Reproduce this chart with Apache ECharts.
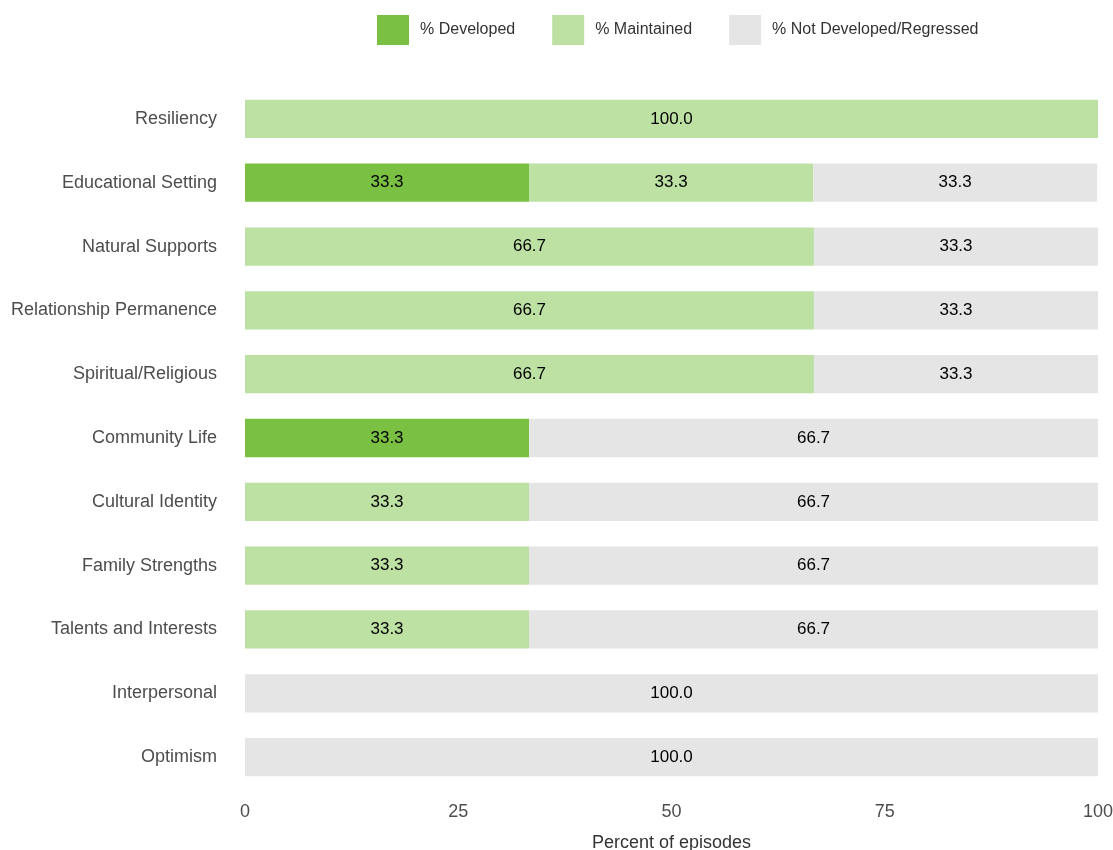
<!DOCTYPE html>
<html><head><meta charset="utf-8">
<script src="https://cdn.jsdelivr.net/npm/echarts@6/dist/echarts.min.js"></script>
<style>html,body{margin:0;padding:0;background:#fff}#c{width:1113px;height:850px}</style>
</head><body><div id="c"></div>
<script>
const categories = ["Resiliency","Educational Setting","Natural Supports","Relationship Permanence","Spiritual/Religious","Community Life","Cultural Identity","Family Strengths","Talents and Interests","Interpersonal","Optimism"];
const developed = [0,33.3,0,0,0,33.3,0,0,0,0,0];
const maintained = [100,33.3,66.7,66.7,66.7,0,33.3,33.3,33.3,0,0];
const notDeveloped = [0,33.3,33.3,33.3,33.3,66.7,66.7,66.7,66.7,100,100];
const xTicks = [0,25,50,75,100];
const seriesNames = ["% Developed","% Maintained","% Not Developed/Regressed"];
const colors = ["#7ac143","#bde0a3","#e5e5e5"];

const chart = echarts.init(document.getElementById('c'));
const mk = (name, data, color) => ({
  name, type:'bar', stack:'t', data, barCategoryGap:'40%',
  itemStyle:{color},
  label:{show:true, position:'inside', color:'#000', fontSize:17, fontFamily:'Liberation Sans, Arial, sans-serif',
    formatter:p => p.value > 0 ? p.value.toFixed(1) : ''}
});
chart.setOption({
  animation:false,
  textStyle:{fontFamily:'Liberation Sans, Arial, sans-serif'},
  legend:{top:10, left:372, itemWidth:32, itemHeight:30, itemGap:37, icon:'rect',
    textStyle:{fontSize:16, color:'#333', padding:[6,0,0,6]}, data:seriesNames},
  grid:{left:245, right:15, top:87, bottom:61, containLabel:false, outerBoundsMode:'none'},
  xAxis:{type:'value', min:0, max:100, interval:25,
    axisLine:{show:false}, axisTick:{show:false}, splitLine:{show:false},
    axisLabel:{fontSize:18, color:'#4d4d4d', margin:14, formatter:v => xTicks.includes(v) ? String(v) : ''},
    name:'Percent of episodes', nameLocation:'middle', nameGap:45,
    nameTextStyle:{fontSize:18, color:'#333'}},
  yAxis:{type:'category', data:categories, inverse:true,
    axisLine:{show:false}, axisTick:{show:false},
    axisLabel:{fontSize:18, color:'#4d4d4d', margin:28}},
  series:[mk(seriesNames[0], developed, colors[0]), mk(seriesNames[1], maintained, colors[1]), mk(seriesNames[2], notDeveloped, colors[2])]
});
</script></body></html>
